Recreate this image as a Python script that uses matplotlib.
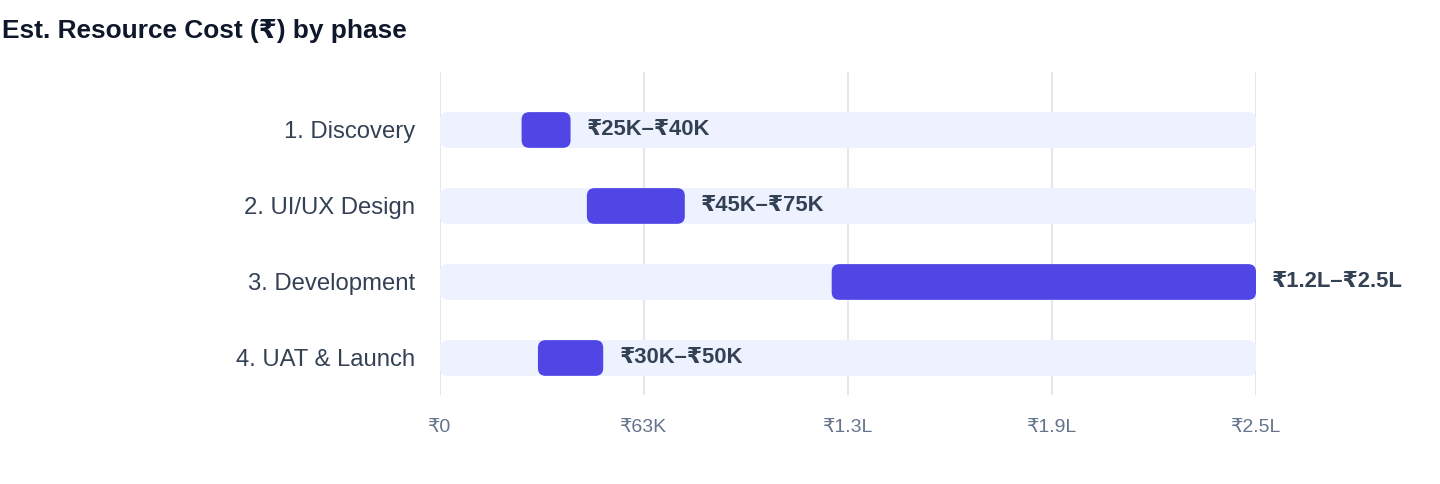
import matplotlib.pyplot as plt
from matplotlib.patches import FancyBboxPatch

phases = ["1. Discovery", "2. UI/UX Design", "3. Development", "4. UAT & Launch"]
low = [25000, 45000, 120000, 30000]
high = [40000, 75000, 250000, 50000]
labels = ["₹25K–₹40K", "₹45K–₹75K", "₹1.2L–₹2.5L", "₹30K–₹50K"]
xmax = 250000
ticks = [0, 62500, 125000, 187500, 250000]
tick_labels = ["₹0", "₹63K", "₹1.3L", "₹1.9L", "₹2.5L"]

plt.rcParams['font.family'] = ['Liberation Sans', 'DejaVu Sans']

fig = plt.figure(figsize=(14.4, 4.84), dpi=100)
ax = fig.add_axes([440/1440, 1 - 395/484, 816/1440, 323/484])

bar_h = 0.47
for i in range(len(phases)):
    # background track
    ax.add_patch(FancyBboxPatch((0, i - bar_h/2), xmax, bar_h,
                                boxstyle="round,pad=0,rounding_size=0.1",
                                mutation_scale=24000, mutation_aspect=1/24000,
                                fc="#eef2ff", ec="none", zorder=1))
    # cost range
    ax.add_patch(FancyBboxPatch((low[i], i - bar_h/2), high[i] - low[i], bar_h,
                                boxstyle="round,pad=0,rounding_size=0.1",
                                mutation_scale=24000, mutation_aspect=1/24000,
                                fc="#4f46e5", ec="none", zorder=2))
    ax.text(high[i] + 5000, i, labels[i], va="center", ha="left",
            fontsize=15.8, fontweight="bold", color="#334155", zorder=3)

ax.set_xlim(0, xmax)
ax.set_ylim(3.487, -0.763)
ax.set_yticks(range(len(phases)))
ax.set_yticklabels(phases, fontsize=17.2, color="#334155")
ax.set_xticks(ticks)
ax.set_xticklabels(tick_labels, fontsize=14, color="#64748b")
ax.tick_params(axis="y", length=0, pad=18)
ax.tick_params(axis="x", length=0, pad=17)
ax.grid(axis="x", color="#e2e8f0", linewidth=1.5, zorder=0)
ax.set_axisbelow(True)
for s in ax.spines.values():
    s.set_visible(False)

fig.text(2/1440, 1 - 31/484, "Est. Resource Cost (₹) by phase", fontsize=18.9,
         fontweight="bold", color="#0f172a", va="center", ha="left")

fig.savefig("out.png", dpi=100)
